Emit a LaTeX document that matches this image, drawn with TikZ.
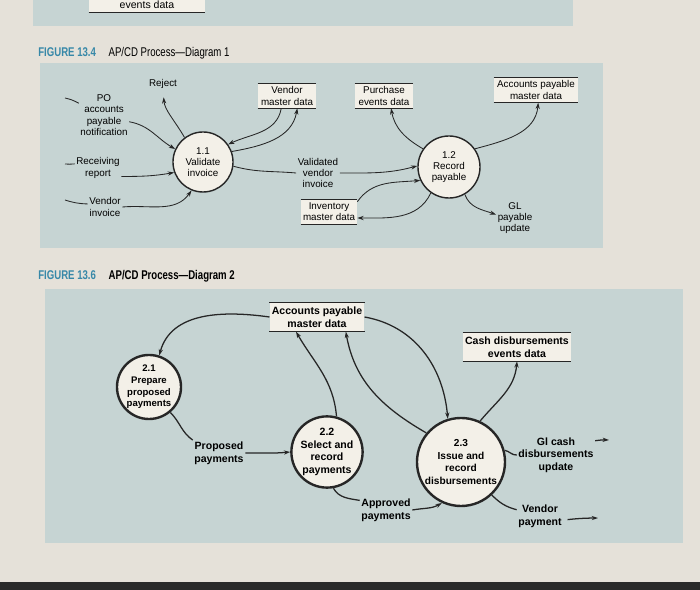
\documentclass[tikz,border=0pt]{standalone}
\usepackage{fontspec}
\setmainfont{Liberation Sans}
\newfontfamily\narrowfont[FakeStretch=0.76]{Liberation Sans}
\usepackage{xcolor}
\usetikzlibrary{arrows.meta, calc}
\definecolor{paper}{HTML}{E5E1D9}
\definecolor{panel}{HTML}{C6D4D3}
\definecolor{cream}{HTML}{F3F0E8}
\definecolor{figblue}{HTML}{3788A8}
\definecolor{inkline}{HTML}{262626}
\definecolor{photoedge}{HTML}{2A2A2A}

\begin{document}
\begin{tikzpicture}[x=0.025cm, y=-0.025cm, every node/.style={align=center}]
    \tikzset{proc/.style={circle,draw=inkline,fill=cream,line width=1pt,inner sep=0pt,font=\fontsize{7}{8}\selectfont},
      bigproc/.style={proc,line width=1.7pt,inner sep=-2pt,font=\fontsize{7.5}{9}\selectfont\bfseries},
      store/.style={fill=cream,inner sep=1.5pt,font=\fontsize{7}{8}\selectfont,
        append after command={(\tikzlastnode.north west) edge[draw=inkline,line width=1.1pt] (\tikzlastnode.north east)
          (\tikzlastnode.south west) edge[draw=inkline,line width=1.1pt] (\tikzlastnode.south east)}},
      boldstore/.style={store,font=\fontsize{7.5}{9}\selectfont\bfseries},
      flowlbl/.style={inner sep=1pt,font=\fontsize{7}{8}\selectfont},
      boldlbl/.style={inner sep=1pt,font=\fontsize{7.5}{9}\selectfont\bfseries},
      arrow/.style={-{Stealth[length=4.5pt,width=3pt]},draw=inkline,line width=0.6pt},
      stub/.style={draw=inkline,line width=0.6pt},
      arrowb/.style={arrow,line width=0.9pt},
      stubb/.style={stub,line width=0.9pt},
      figtitle/.style={anchor=west,inner sep=0pt,font=\narrowfont\fontsize{9}{10}\selectfont}}

    % page and panels
    \useasboundingbox (0,0) rectangle (700,590);
    \fill[paper] (0,0) rectangle (700,590);
    \fill[panel] (33,-5) rectangle (573,26);
    \fill[panel] (40,63) rectangle (603,248);
    \fill[panel] (45,289) rectangle (683,543);
    \fill[photoedge] (0,582) rectangle (700,590);

    \node[store,minimum width=2.9cm,minimum height=0.35cm,font=\fontsize{7.5}{8}\selectfont] (evd) at (147,5) {events data};

    % diagram 1
    \node[figtitle] (fig1) at (38,53) {\textcolor{figblue}{\bfseries FIGURE 13.4}\quad AP/CD Process—Diagram 1};
    \node[proc,minimum size=1.5cm] (p11) at (203,162) {1.1\\Validate\\invoice};
    \node[proc,minimum size=1.55cm] (p12) at (449,167) {1.2\\Record\\payable};
    \node[store,minimum width=1.45cm,minimum height=0.6cm] (vmd) at (287,96) {Vendor\\master data};
    \node[store,minimum width=1.45cm,minimum height=0.6cm] (ped) at (384,96) {Purchase\\events data};
    \node[store,minimum width=2.1cm,minimum height=0.62cm] (apd1) at (536,90) {Accounts payable\\master data};
    \node[store,minimum width=1.35cm,minimum height=0.6cm] (imd) at (329,212) {Inventory\\master data};
    \node[flowlbl] (rej) at (163,84) {Reject};
    \node[flowlbl] (po) at (104,115) {PO\\accounts\\payable\\notification};
    \node[flowlbl] (rr) at (98,168) {Receiving\\report};
    \node[flowlbl] (vi) at (105,207) {Vendor\\invoice};
    \node[flowlbl] (vvi) at (318,173) {Validated\\vendor\\invoice};
    \node[flowlbl] (gl) at (515,218) {GL\\payable\\update};
    \coordinate (po0) at (65,98);
    \coordinate (rr0) at (65,164);
    \coordinate (vi0) at (65,200);

    \draw[stub] (po0) to[bend left=8] (po.155);
    \draw[arrow] (po.-15) to[out=-10,in=150] (p11.155);
    \draw[stub] (rr0) to[bend right=5] (rr.170);
    \draw[arrow] (rr.-20) to[out=0,in=190] (p11.200);
    \draw[stub] (vi0) to[bend right=8] (vi.170);
    \draw[arrow] (vi.east) to[out=5,in=235] (p11.248);
    \draw[arrow,shorten >=5pt] (p11.127) to[out=120,in=-85] (rej.south);
    \draw[arrow] (vmd.-115) to[out=-100,in=25] (p11.35);
    \draw[arrow] (p11.20) to[out=10,in=-100] (vmd.-50);
    \draw[stub] (p11.-8) to[out=-15,in=175] (vvi.west);
    \draw[arrow] (vvi.east) to[out=0,in=195] (p12.178);
    \draw[arrow] (p12.145) to[out=150,in=-80] (ped.-60);
    \draw[arrow] (p12.35) to[out=15,in=-95] (apd1.-80);
    \draw[arrow] (imd.20) to[out=55,in=185] (p12.205);
    \draw[arrow] (p12.235) to[out=-115,in=0] (imd.-12);
    \draw[arrow] (p12.-60) to[out=-70,in=160] (gl.170);

    % diagram 2
    \node[figtitle] (fig2) at (38,276) {\bfseries\textcolor{figblue}{FIGURE 13.6}\quad AP/CD Process—Diagram 2};
    \node[bigproc,minimum size=1.6cm,font=\fontsize{6.8}{8.3}\selectfont\bfseries] (p21) at (149,387) {2.1\\Prepare\\proposed\\payments};
    \node[bigproc,minimum size=1.78cm] (p22) at (327,452) {2.2\\Select and\\record\\payments};
    \node[bigproc,minimum size=2.2cm,font=\fontsize{7.2}{9}\selectfont\bfseries] (p23) at (461,462) {2.3\\Issue and\\record\\disbursements};
    \node[boldstore,minimum width=2.3cm,minimum height=0.72cm] (apd2) at (317,317) {Accounts payable\\master data};
    \node[boldstore,minimum width=2.7cm,minimum height=0.7cm] (cde) at (517,347) {Cash disbursements\\events data};
    \node[boldlbl] (pp) at (219,453) {Proposed\\payments};
    \node[boldlbl] (ap) at (386,510) {Approved\\payments};
    \node[boldlbl] (gc) at (556,455) {Gl cash\\disbursements\\update};
    \node[boldlbl] (vp) at (540,516) {Vendor\\payment};
    \coordinate (gcout) at (609,440);
    \coordinate (vpout) at (598,518);

    \draw[arrowb] (apd2.west) to[out=172,in=75] (p21.72);
    \draw[stubb] (p21.-50) to[out=-45,in=145] (pp.north west);
    \draw[arrowb] (pp.east) to[out=0,in=185] (p22.west);
    \draw[arrowb] (p22.75) to[out=95,in=-60] (apd2.-145);
    \draw[arrowb] (p23.140) to[out=150,in=-80] (apd2.-27);
    \draw[arrowb] (apd2.east) to[out=-10,in=95] (p23.107);
    \draw[arrowb] (p23.65) to[out=50,in=-95] (cde.south);
    \draw[stubb] (p23.15) to[out=-10,in=185] (gc.west);
    \draw[arrowb] (gc.20) to[bend left=5] (gcout);
    \draw[stubb] (p22.-80) to[out=-60,in=170] (ap.160);
    \draw[arrowb] (ap.east) to[out=10,in=210] (p23.245);
    \draw[stubb] (p23.-47) to[out=-45,in=165] (vp.165);
    \draw[arrowb,shorten <=3pt] (vp.-10) to[bend left=3] (vpout);
  \end{tikzpicture}
\end{document}
